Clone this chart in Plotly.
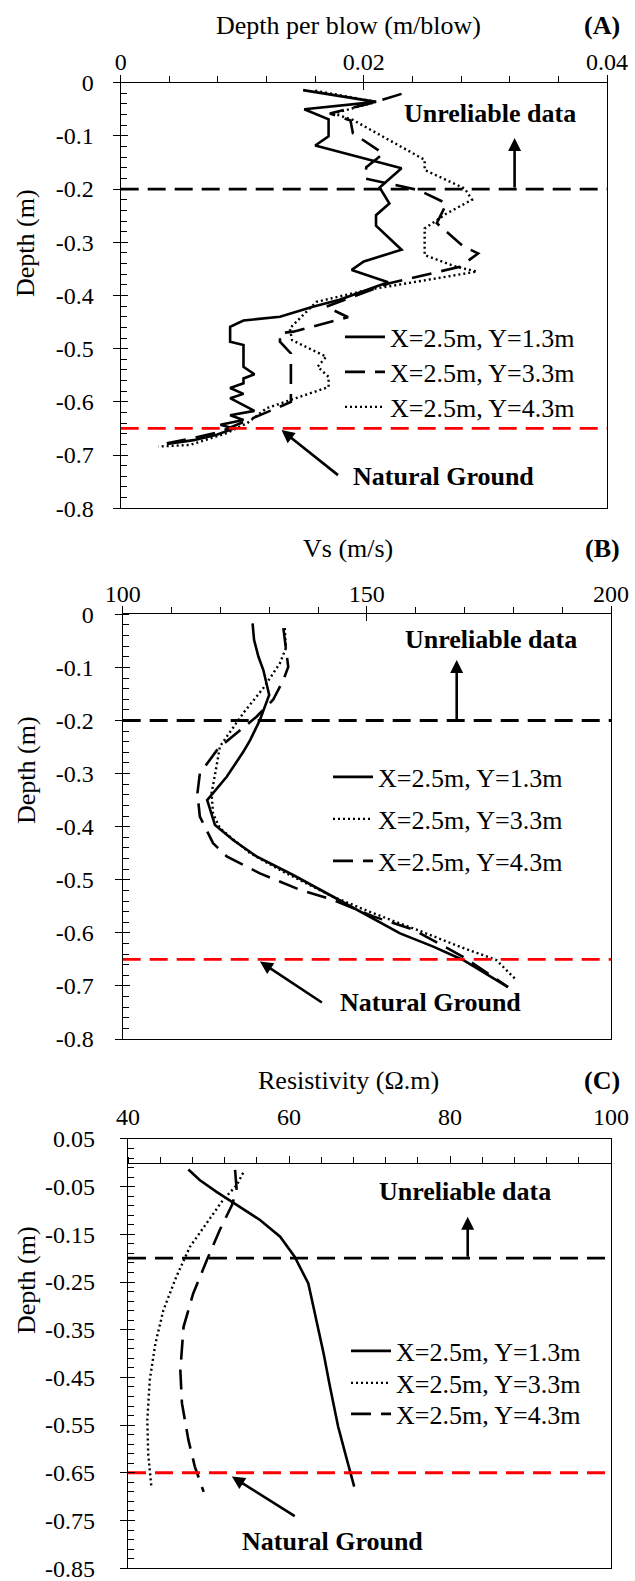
import plotly.graph_objects as go

W, H = 635, 1581
SERIF = "Liberation Serif"

# ---------------- (A) depth per blow (m/blow) ----------------
a13_x = [0.0150, 0.0210, 0.0151, 0.0171, 0.0171, 0.0160, 0.0231, 0.0213, 0.0221, 0.0210,
         0.0210, 0.0231, 0.0200, 0.0190, 0.0220, 0.0180, 0.0158, 0.0131, 0.0101, 0.0090,
         0.0090, 0.0101, 0.0101, 0.0110, 0.0101, 0.0101, 0.0090, 0.0101, 0.0090, 0.0110,
         0.0090, 0.0101, 0.0082, 0.0093, 0.0079, 0.0060, 0.0038]
a13_d = [-0.014, -0.036, -0.050, -0.069, -0.101, -0.118, -0.161, -0.197, -0.227, -0.249,
         -0.269, -0.314, -0.336, -0.352, -0.375, -0.408, -0.421, -0.440, -0.447, -0.459,
         -0.487, -0.493, -0.534, -0.548, -0.556, -0.565, -0.574, -0.585, -0.593, -0.617,
         -0.625, -0.634, -0.643, -0.650, -0.662, -0.672, -0.679]

a33_x = [0.0231, 0.0210, 0.0172, 0.0189, 0.0191, 0.0216, 0.0202, 0.0201, 0.0245, 0.0268,
         0.0260, 0.0282, 0.0294, 0.0279, 0.0221, 0.0180, 0.0169, 0.0187, 0.0142, 0.0131,
         0.0131, 0.0140, 0.0140, 0.0125, 0.0098, 0.0082, 0.0060, 0.0038]
a33_d = [-0.021, -0.036, -0.058, -0.071, -0.095, -0.133, -0.159, -0.180, -0.202, -0.227,
         -0.264, -0.308, -0.321, -0.346, -0.377, -0.412, -0.421, -0.441, -0.468, -0.471,
         -0.487, -0.509, -0.600, -0.615, -0.640, -0.656, -0.668, -0.678]

a43_x = [0.0160, 0.0210, 0.0175, 0.0191, 0.0250, 0.0250, 0.0283, 0.0289, 0.0268, 0.0250,
         0.0250, 0.0276, 0.0293, 0.0230, 0.0202, 0.0161, 0.0139, 0.0141, 0.0169, 0.0162,
         0.0171, 0.0171, 0.0136, 0.0120, 0.0104, 0.0087, 0.0057, 0.0031]
a43_d = [-0.015, -0.036, -0.058, -0.070, -0.145, -0.164, -0.199, -0.220, -0.246, -0.274,
         -0.324, -0.346, -0.355, -0.380, -0.390, -0.412, -0.462, -0.484, -0.515, -0.534,
         -0.553, -0.572, -0.600, -0.612, -0.640, -0.659, -0.681, -0.684]

# ---------------- (B) shear wave velocity Vs (m/s) ----------------
b13_x = [126.6, 126.9, 127.8, 128.8, 130.0, 128.1, 126.1, 124.7, 121.3, 117.3,
         118.9, 122.6, 127.4, 134.9, 143.1, 149.9, 156.8, 163.6, 169.7, 178.9]
b13_d = [-0.017, -0.048, -0.080, -0.105, -0.152, -0.199, -0.237, -0.259, -0.306, -0.350,
         -0.397, -0.425, -0.456, -0.491, -0.532, -0.566, -0.601, -0.626, -0.651, -0.702]

b33_x = [133.2, 133.4, 132.2, 128.8, 124.7, 119.9, 119.2, 118.2, 118.5, 119.9,
         126.1, 132.9, 143.1, 151.3, 160.2, 169.0, 176.5, 180.3]
b33_d = [-0.026, -0.064, -0.092, -0.139, -0.186, -0.249, -0.287, -0.337, -0.375, -0.403,
         -0.450, -0.485, -0.532, -0.563, -0.594, -0.626, -0.651, -0.686]

b43_x = [132.9, 133.4, 133.9, 132.9, 130.8, 127.4, 122.6, 119.6, 115.8, 115.3,
         115.8, 118.5, 121.3, 128.1, 136.3, 143.1, 151.3, 159.5, 169.7, 178.9]
b43_d = [-0.026, -0.060, -0.099, -0.124, -0.161, -0.193, -0.230, -0.252, -0.300, -0.337,
         -0.381, -0.431, -0.456, -0.488, -0.519, -0.538, -0.569, -0.594, -0.645, -0.702]

# ---------------- (C) resistivity (ohm.m) ----------------
c13_x = [47.5, 48.9, 51.0, 53.5, 56.4, 58.9, 60.7, 62.4, 63.4, 64.3, 65.1, 66.1, 67.2, 68.1]
c13_d = [-0.014, -0.036, -0.061, -0.089, -0.120, -0.155, -0.197, -0.253, -0.330, -0.400,
         -0.470, -0.553, -0.623, -0.679]

c33_x = [54.3, 53.5, 51.8, 49.8, 47.7, 46.0, 44.4, 43.4, 42.7, 42.4, 42.5, 42.9]
c33_d = [-0.021, -0.047, -0.078, -0.127, -0.176, -0.239, -0.309, -0.379, -0.456, -0.539,
         -0.609, -0.679]

c43_x = [53.3, 53.5, 52.9, 51.4, 49.8, 48.1, 46.9, 46.5, 46.7, 47.5, 48.3, 49.4]
c43_d = [-0.015, -0.057, -0.089, -0.141, -0.204, -0.274, -0.344, -0.435, -0.504, -0.581,
         -0.637, -0.690]

series_names = ["X=2.5m, Y=1.3m", "X=2.5m, Y=3.3m", "X=2.5m, Y=4.3m"]

# reference depths
unreliable_depth = -0.2
natural_ground_depth = -0.65

# ---------------- ticks ----------------
a_xticks, a_xtext = [0, 0.02, 0.04], ["0", "0.02", "0.04"]
b_xticks, b_xtext = [100, 150, 200], ["100", "150", "200"]
c_xticks, c_xtext = [40, 60, 80, 100], ["40", "60", "80", "100"]
ab_yticks = [0, -0.1, -0.2, -0.3, -0.4, -0.5, -0.6, -0.7, -0.8]
ab_ytext = ["0", "-0.1", "-0.2", "-0.3", "-0.4", "-0.5", "-0.6", "-0.7", "-0.8"]
c_yticks = [0.05, -0.05, -0.15, -0.25, -0.35, -0.45, -0.55, -0.65, -0.75, -0.85]
c_ytext = ["0.05", "-0.05", "-0.15", "-0.25", "-0.35", "-0.45", "-0.55", "-0.65",
           "-0.75", "-0.85"]

# ---------------- layout geometry (pixels) ----------------
def fx(p):
    return p / W


def fy(p):
    return 1 - p / H


BOX = {
    "A": dict(l=120.7, r=607.0, t=82.7, b=508.3, xr=[0, 0.04], yr=[-0.8001, 0],
              ystand=14, xstand=-5),
    "B": dict(l=122.7, r=611.0, t=614.3, b=1039.1, xr=[100, 200], yr=[-0.8001, 0],
              ystand=16, xstand=-5),
    "C": dict(l=128.0, r=611.0, t=1138.9, b=1568.2, xr=[40, 100], yr=[-0.8501, 0.0501],
              ystand=20, xstand=3),
}

TICKFONT = dict(family=SERIF, size=24, color="black")
LW_AX = 1.3

fig = go.Figure()

styles = {
    "solid": dict(color="black", width=2.6, dash="solid"),
    "dash": dict(color="black", width=2.6, dash="20px,10px"),
    "dot": dict(color="black", width=2.4, dash="2px,3px"),
}

# legend entry rows: (left edge px, row centre px)
legend_rows = {
    "A": [(340, 337), (340, 372), (340, 407)],
    "B": [(328, 777), (328, 819), (328, 861)],
    "C": [(346, 1351), (346, 1383), (346, 1414)],
}

panels = [
    ("A", "x", "y", "x4", "y4",
     [(a13_x, a13_d, "solid"), (a33_x, a33_d, "dash"), (a43_x, a43_d, "dot")]),
    ("B", "x2", "y2", "x5", "y5",
     [(b13_x, b13_d, "solid"), (b33_x, b33_d, "dot"), (b43_x, b43_d, "dash")]),
    ("C", "x3", "y3", "x6", "y6",
     [(c13_x, c13_d, "solid"), (c33_x, c33_d, "dot"), (c43_x, c43_d, "dash")]),
]

LEGFONT = dict(family=SERIF, size=26, color="black")
legends = {}
n_leg = 0
for key, xa, ya, xo, yo, series in panels:
    for i, (xs, ds, st) in enumerate(series):
        n_leg += 1
        lname = "legend" if n_leg == 1 else f"legend{n_leg}"
        lx, ly = legend_rows[key][i]
        legends[lname] = dict(
            x=fx(lx), y=fy(ly), xanchor="left", yanchor="middle", font=LEGFONT,
            bgcolor="rgba(0,0,0,0)", borderwidth=0, itemwidth=40)
        fig.add_trace(go.Scatter(
            x=xs, y=ds, mode="lines", name=series_names[i], line=styles[st],
            xaxis=xa, yaxis=ya, legend=lname, hoverinfo="skip"))
    xr = BOX[key]["xr"]
    # boundary lines: unreliable zone and natural ground
    fig.add_trace(go.Scatter(
        x=xr, y=[unreliable_depth] * 2, mode="lines", showlegend=False,
        line=dict(color="black", width=2.8, dash="18px,9px"),
        xaxis=xo, yaxis=yo, hoverinfo="skip"))
    fig.add_trace(go.Scatter(
        x=xr, y=[natural_ground_depth] * 2, mode="lines", showlegend=False,
        line=dict(color="#ff0000", width=2.8, dash="18px,9px"),
        xaxis=xo, yaxis=yo, hoverinfo="skip"))

layout = dict(
    template="none",
    width=W, height=H, autosize=False,
    margin=dict(l=0, r=0, t=0, b=0, pad=0),
    paper_bgcolor="white", plot_bgcolor="white",
    font=dict(family=SERIF, color="black"),
    showlegend=True,
)
layout.update(legends)

xinfo = {
    "A": (a_xticks, a_xtext, 0.004, 0),
    "B": (b_xticks, b_xtext, 10, 100),
    "C": (c_xticks, c_xtext, 4, 40),
}
yinfo = {
    "A": (ab_yticks, ab_ytext, 0.02, 0),
    "B": (ab_yticks, ab_ytext, 0.02, 0),
    "C": (c_yticks, c_ytext, 0.02, 0.05),
}

names = {"A": ("", "", "4", "4"), "B": ("2", "2", "5", "5"), "C": ("3", "3", "6", "6")}

for key, (xs_, ys_, xo_, yo_) in names.items():
    bx = BOX[key]
    xdom = [fx(bx["l"]), fx(bx["r"])]
    ydom = [fy(bx["b"]), fy(bx["t"])]
    xt, xtt, xminor, x0 = xinfo[key]
    yt, ytt, yminor, y0 = yinfo[key]
    common = dict(showgrid=False, zeroline=False, fixedrange=True, automargin=False)
    top_ticks = key != "C"
    layout["xaxis" + xs_] = dict(
        domain=xdom, range=bx["xr"], anchor="y" + ys_, side="top",
        tickmode="array", tickvals=xt, ticktext=xtt, tickfont=TICKFONT,
        ticklabelstandoff=bx["xstand"], ticklabeloverflow="allow",
        ticks="outside" if top_ticks else "", ticklen=7, tickwidth=LW_AX, tickcolor="black",
        minor=dict(ticks="outside" if top_ticks else "", ticklen=6, tickwidth=LW_AX,
                   tickcolor="black", tickmode="linear", tick0=x0, dtick=xminor),
        showline=True, linecolor="black", linewidth=LW_AX, mirror=True, **common)
    layout["yaxis" + ys_] = dict(
        domain=ydom, range=bx["yr"], anchor="x" + xs_, side="left",
        tickmode="array", tickvals=yt, ticktext=ytt, tickfont=TICKFONT,
        ticklabelstandoff=bx["ystand"], ticklabeloverflow="allow",
        ticks="outside", ticklen=7, tickwidth=LW_AX, tickcolor="black",
        minor=dict(ticks="inside", ticklen=6, tickwidth=LW_AX, tickcolor="black",
                   tickmode="linear", tick0=y0, dtick=yminor),
        showline=True, linecolor="black", linewidth=LW_AX, mirror=True, **common)
    # companion axes carrying the inner half of the crossing major ticks
    if top_ticks:
        layout["xaxis" + xo_] = dict(
            overlaying="x" + xs_, range=bx["xr"], anchor="y" + yo_, side="top",
            tickmode="array", tickvals=xt, showticklabels=False,
            ticks="inside", ticklen=7, tickwidth=LW_AX, tickcolor="black",
            showline=False, **common)
    else:
        # the horizontal axis of (C) crosses at depth 0
        pos = ydom[0] + (0 - bx["yr"][0]) / (bx["yr"][1] - bx["yr"][0]) * (ydom[1] - ydom[0])
        layout["xaxis" + xo_] = dict(
            overlaying="x" + xs_, range=bx["xr"], anchor="free", position=pos, side="top",
            tickmode="array", tickvals=xt[1:-1], showticklabels=False,
            ticks="outside", ticklen=7, tickwidth=LW_AX, tickcolor="black",
            minor=dict(ticks="outside", ticklen=6, tickwidth=LW_AX, tickcolor="black",
                       tickmode="linear", tick0=x0, dtick=xminor),
            showline=True, linecolor="black", linewidth=LW_AX, **common)
    layout["yaxis" + yo_] = dict(
        overlaying="y" + ys_, range=bx["yr"], anchor="x" + xo_ if top_ticks else "x" + xs_,
        side="left", tickmode="array", tickvals=yt, showticklabels=False,
        ticks="inside", ticklen=7, tickwidth=LW_AX, tickcolor="black",
        showline=False, **common)

fig.update_layout(**layout)

# text labels and arrows
BOLD = dict(family=SERIF, size=26, color="black", weight="bold")
TITLE = dict(family=SERIF, size=26, color="black")
ann = []
titles = [("Depth per blow (m/blow)", "(A)", 25), ("Vs (m/s)", "(B)", 548),
          ("Resistivity (Ω.m)", "(C)", 1080)]
for t, tag, yy in titles:
    ann.append(dict(text=t, x=fx(348), y=fy(yy), xref="paper", yref="paper",
                    xanchor="center", yanchor="middle", showarrow=False, font=TITLE))
    ann.append(dict(text="<b>" + tag + "</b>", x=fx(622), y=fy(yy), xref="paper",
                    yref="paper", xanchor="right", yanchor="middle", showarrow=False,
                    font=BOLD))
for yy in [243, 770, 1280]:
    ann.append(dict(text="Depth (m)", x=fx(26), y=fy(yy), xref="paper", yref="paper",
                    xanchor="center", yanchor="middle", textangle=-90, showarrow=False,
                    font=TITLE))

labels = [
    # axes, unreliable text (x, y), arrow x, arrow head y, NG text (x, y), NG tail, NG head
    ("x", "y", (0.02312, -0.057), 0.0324, -0.104, (0.01893, -0.741),
     (0.0180, -0.740), (0.01323, -0.653)),
    ("x2", "y2", (157.4, -0.048), 168.4, -0.086, (144.1, -0.732),
     (141.1, -0.733), (128.1, -0.654)),
    ("x3", "y3", (70.9, -0.061), 82.2, -0.113, (53.9, -0.795),
     (60.9, -0.743), (52.9, -0.658)),
]
for xa, ya, ut, ax_, ahead, ng, tail, head in labels:
    ann.append(dict(text="<b>Unreliable data</b>", x=ut[0], y=ut[1], xref=xa, yref=ya,
                    xanchor="left", yanchor="middle", showarrow=False, font=BOLD))
    ann.append(dict(text="", x=ax_, y=ahead, ax=ax_, ay=unreliable_depth, xref=xa, yref=ya,
                    axref=xa, ayref=ya, showarrow=True, arrowhead=2, arrowsize=1,
                    arrowwidth=2.6, arrowcolor="black"))
    ann.append(dict(text="<b>Natural Ground</b>", x=ng[0], y=ng[1], xref=xa, yref=ya,
                    xanchor="left", yanchor="middle", showarrow=False, font=BOLD))
    ann.append(dict(text="", x=head[0], y=head[1], ax=tail[0], ay=tail[1], xref=xa, yref=ya,
                    axref=xa, ayref=ya, showarrow=True, arrowhead=2, arrowsize=1,
                    arrowwidth=2.6, arrowcolor="black"))

fig.update_layout(annotations=ann)
fig.write_html("out.html")
